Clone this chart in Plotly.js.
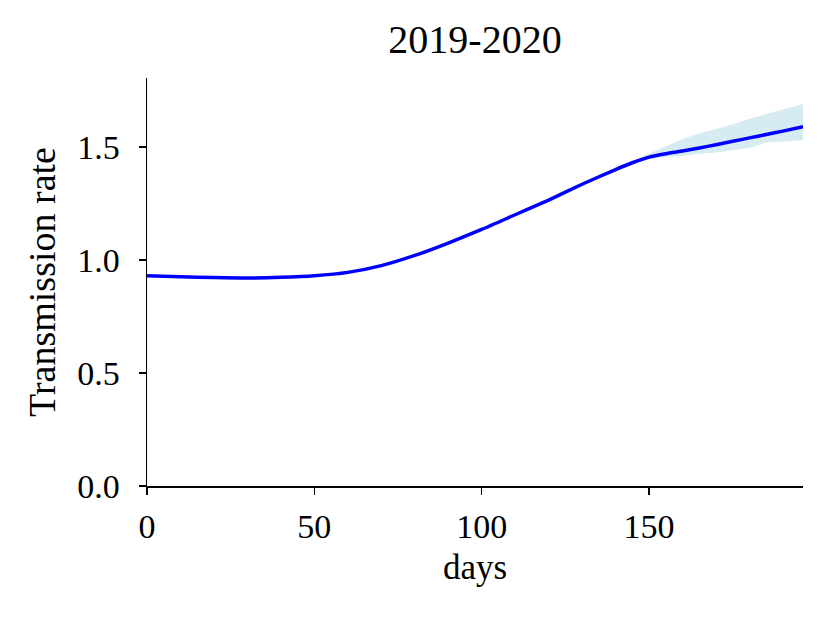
<!DOCTYPE html>
<html>
<head>
<meta charset="utf-8">
<script src="https://cdn.plot.ly/plotly-3.0.1.min.js"></script>
<style>
  html, body { margin: 0; padding: 0; background: #fff; }
  #chart { width: 829px; height: 618px; }
</style>
</head>
<body>
<div id="chart"></div>
<script>
// Transmission rate 2019-2020 – Mittelwert mit Unsicherheitsband

const days = [0, 10, 20, 30, 40, 50, 60, 70, 80, 90, 100, 110, 120, 130, 140,
              145, 150, 155, 160, 165, 170, 175, 180, 185, 190, 196];
const rate = [0.93, 0.926, 0.922, 0.92, 0.923, 0.93, 0.945, 0.975, 1.02, 1.075,
              1.135, 1.20, 1.265, 1.335, 1.40,
              1.43, 1.455, 1.47, 1.482, 1.495, 1.51, 1.525, 1.54, 1.555, 1.57, 1.59];
const rateUpper = [0.935, 0.931, 0.927, 0.925, 0.928, 0.935, 0.95, 0.98, 1.025, 1.08,
                   1.14, 1.205, 1.27, 1.34, 1.405,
                   1.44, 1.47, 1.505, 1.535, 1.56, 1.58, 1.60, 1.625, 1.645, 1.665, 1.69];
const rateLower = [0.925, 0.921, 0.917, 0.915, 0.918, 0.925, 0.94, 0.97, 1.015, 1.07,
                   1.13, 1.195, 1.26, 1.33, 1.395,
                   1.425, 1.445, 1.455, 1.46, 1.47, 1.475, 1.485, 1.495, 1.52, 1.525, 1.53];

const xTicks = [0, 50, 100, 150];
const yTicks = [0, 0.5, 1.0, 1.5];

const FONT = 'Liberation Serif, Times New Roman, serif';

const traces = [
    {
        x: days,
        y: rateLower,
        mode: 'lines',
        line: { width: 0, color: 'rgba(0,0,0,0)' },
        showlegend: false,
        hoverinfo: 'skip'
    },
    {
        x: days,
        y: rateUpper,
        mode: 'lines',
        fill: 'tonexty',
        fillcolor: 'rgba(173,216,230,0.5)',
        line: { width: 0, color: 'rgba(0,0,0,0)' },
        showlegend: false,
        hoverinfo: 'skip'
    },
    {
        x: days,
        y: rate,
        mode: 'lines',
        line: { color: '#0000ff', width: 3.5, shape: 'spline', smoothing: 0.6 },
        showlegend: false
    }
];

const layout = {
    width: 829,
    height: 618,
    margin: { l: 147, r: 26, t: 78, b: 132, pad: 0 },
    paper_bgcolor: '#fff',
    plot_bgcolor: '#fff',
    font: { family: FONT, color: '#000', size: 34 },
    title: {
        text: '2019-2020',
        font: { family: FONT, size: 40, color: '#000' },
        x: 0.5, xref: 'paper',
        y: 1 - 39 / 618, yref: 'container', yanchor: 'middle'
    },
    xaxis: {
        range: [0, 196],
        tickvals: xTicks,
        ticks: 'outside',
        ticklen: 7,
        tickwidth: 1.5,
        tickcolor: '#000',
        showline: true,
        linecolor: '#000',
        linewidth: 1.5,
        showgrid: false,
        zeroline: false,
        ticklabelstandoff: 3,
        tickfont: { family: FONT, size: 34 },
        title: { text: 'days', font: { family: FONT, size: 35 }, standoff: 10 }
    },
    yaxis: {
        range: [0, 1.805],
        tickvals: yTicks,
        tickformat: '.1f',
        ticks: 'outside',
        ticklen: 7,
        tickwidth: 1.5,
        tickcolor: '#000',
        showline: true,
        linecolor: '#000',
        linewidth: 1.5,
        showgrid: false,
        zeroline: false,
        ticklabelstandoff: 12,
        tickfont: { family: FONT, size: 34 },
        title: { text: 'Transmission rate', font: { family: FONT, size: 38 }, standoff: 10 }
    }
};

Plotly.newPlot('chart', traces, layout, { displayModeBar: false, staticPlot: true });
</script>
</body>
</html>
